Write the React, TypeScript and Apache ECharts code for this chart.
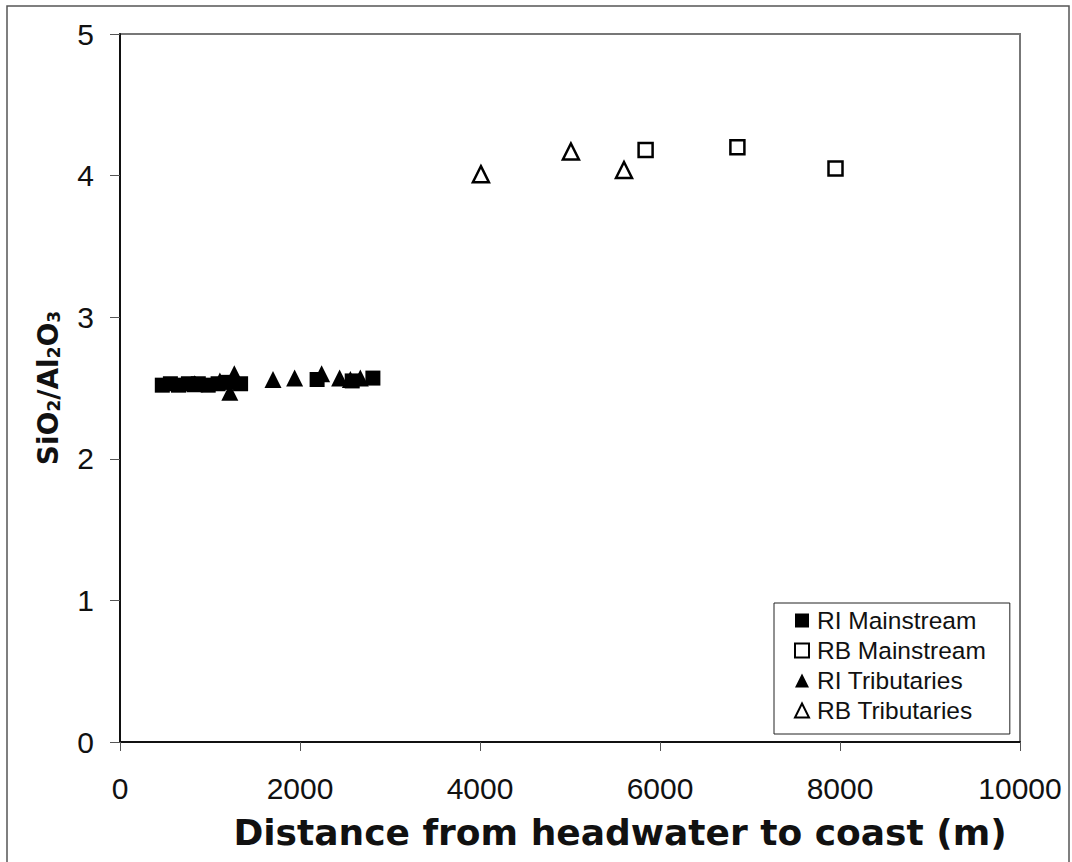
import React, { useEffect, useRef } from "react";
import * as echarts from "echarts";

const xTicks = [0, 2000, 4000, 6000, 8000, 10000];
const yTicks = [0, 1, 2, 3, 4, 5];

const seriesNames = ["RI Mainstream", "RB Mainstream", "RI Tributaries", "RB Tributaries"];

const riMainX = [470, 560, 650, 760, 870, 980, 1090, 1200, 1340, 2190, 2580, 2810];
const riMainY = [2.52, 2.53, 2.52, 2.53, 2.53, 2.52, 2.53, 2.54, 2.53, 2.56, 2.55, 2.57];

const rbMainX = [5840, 6860, 7950];
const rbMainY = [4.18, 4.2, 4.05];

const riTribX = [830, 1110, 1220, 1270, 1700, 1940, 2240, 2440, 2560, 2670];
const riTribY = [2.53, 2.55, 2.47, 2.6, 2.56, 2.57, 2.6, 2.57, 2.56, 2.57];

const rbTribX = [4010, 5010, 5600];
const rbTribY = [4.01, 4.17, 4.04];

const pairs = (xs: number[], ys: number[]) => xs.map((x, i) => [x, ys[i]]);

const FONT = "'Liberation Sans', Arial, Helvetica, sans-serif";
const TITLE_FONT = "'DejaVu Sans', 'Liberation Sans', Arial, sans-serif";

export default function App() {
  const ref = useRef<HTMLDivElement>(null);
  useEffect(() => {
    if (!ref.current) return;
    const chart = echarts.init(ref.current, null, { renderer: "svg" });
    chart.setOption({
      animation: false,
      backgroundColor: "#ffffff",
      textStyle: { fontFamily: FONT },
      graphic: [
        {
          type: "rect",
          shape: { x: 7, y: 6, width: 1062, height: 900 },
          style: { fill: "none", stroke: "#555", lineWidth: 1.5 },
          silent: true,
        },
      ],
      grid: {
        left: 120,
        right: 52,
        top: 34,
        bottom: 120,
        show: true,
        borderColor: "#777",
        borderWidth: 2,
      },
      xAxis: {
        type: "value",
        min: xTicks[0],
        max: xTicks[xTicks.length - 1],
        interval: 2000,
        splitLine: { show: false },
        axisLine: { show: true, lineStyle: { color: "#111", width: 2 } },
        axisTick: { show: true, length: 9, lineStyle: { color: "#555", width: 1 } },
        axisLabel: {
          color: "#111",
          fontSize: 30,
          fontFamily: FONT,
          margin: 31,
          formatter: (v: number) => String(v),
        },
        name: "Distance from headwater to coast (m)",
        nameLocation: "middle",
        nameGap: 72,
        nameTextStyle: {
          color: "#111",
          fontSize: 36,
          fontWeight: "bold",
          fontFamily: TITLE_FONT,
          padding: [0, 0, 0, 100],
        },
      },
      yAxis: {
        type: "value",
        min: yTicks[0],
        max: yTicks[yTicks.length - 1],
        interval: 1,
        splitLine: { show: false },
        axisLine: { show: true, lineStyle: { color: "#111", width: 2 } },
        axisTick: { show: true, length: 10, lineStyle: { color: "#555", width: 1 } },
        axisLabel: { color: "#111", fontSize: 30, fontFamily: FONT, margin: 26 },
        name: "{a|SiO}{s|2}{a|/Al}{s|2}{a|O}{s|3}",
        nameLocation: "middle",
        nameGap: 58,
        nameTextStyle: {
          color: "#111",
          fontFamily: TITLE_FONT,
          rich: {
            a: { fontSize: 28, fontWeight: "bold", fontFamily: TITLE_FONT, color: "#111", lineHeight: 28 },
            s: { fontSize: 17, fontWeight: "bold", fontFamily: TITLE_FONT, color: "#111", verticalAlign: "bottom", lineHeight: 17 },
          },
        },
      },
      legend: {
        orient: "vertical",
        left: 774,
        top: 603,
        padding: [5, 24, 11, 20],
        itemGap: 5,
        itemWidth: 14,
        itemHeight: 14,
        borderColor: "#222",
        borderWidth: 1,
        borderRadius: 0,
        textStyle: { fontSize: 24.5, color: "#111", fontFamily: FONT, padding: [0, 0, 0, 3] },
        data: [
          { name: seriesNames[0], icon: "rect" },
          { name: seriesNames[1], icon: "rect" },
          { name: seriesNames[2], icon: "triangle" },
          { name: seriesNames[3], icon: "triangle" },
        ],
      },
      series: [
        {
          name: seriesNames[0],
          type: "scatter",
          symbol: "rect",
          symbolSize: 15,
          itemStyle: { color: "#000", borderColor: "#000", borderWidth: 0, opacity: 1 },
          data: pairs(riMainX, riMainY),
        },
        {
          name: seriesNames[1],
          type: "scatter",
          symbol: "rect",
          symbolSize: 14,
          itemStyle: { color: "#fff", borderColor: "#000", borderWidth: 2.5, opacity: 1 },
          data: pairs(rbMainX, rbMainY),
        },
        {
          name: seriesNames[2],
          type: "scatter",
          symbol: "triangle",
          symbolSize: 17,
          itemStyle: { color: "#000", borderColor: "#000", borderWidth: 0, opacity: 1 },
          data: pairs(riTribX, riTribY),
        },
        {
          name: seriesNames[3],
          type: "scatter",
          symbol: "triangle",
          symbolSize: 16,
          itemStyle: { color: "#fff", borderColor: "#000", borderWidth: 2.5, opacity: 1 },
          data: pairs(rbTribX, rbTribY),
        },
      ],
    });
    return () => chart.dispose();
  }, []);
  return (
    <div
      ref={ref}
      style={{ position: "absolute", left: 0, top: 0, width: 1072, height: 862 }}
    />
  );
}
